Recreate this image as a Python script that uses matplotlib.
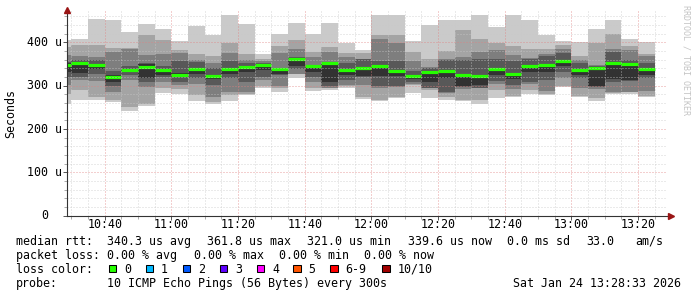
import matplotlib
matplotlib.use("Agg")
import matplotlib.pyplot as plt
from matplotlib.patches import Rectangle

# figure size in pixels
W, H = 697, 297

# start of each 5 minute step (bar covers start .. start+5min)
bar_start = ["10:25", "10:30", "10:35", "10:40", "10:45", "10:50", "10:55",
             "11:00", "11:05", "11:10", "11:15", "11:20", "11:25", "11:30",
             "11:35", "11:40", "11:45", "11:50", "11:55", "12:00", "12:05",
             "12:10", "12:15", "12:20", "12:25", "12:30", "12:35", "12:40",
             "12:45", "12:50", "12:55", "13:00", "13:05", "13:10", "13:15",
             "13:20"]

# the 10 sorted ping times per step (us)
pings = [
    [259, 281, 302, 321, 332, 352, 356, 371, 390, 406],
    [268, 290, 313, 321, 330, 355, 359, 368, 394, 409],
    [267, 273, 312, 328, 338, 348, 359, 367, 394, 454],
    [263, 268, 286, 299, 309, 325, 334, 378, 388, 452],
    [242, 252, 313, 326, 333, 338, 345, 386, 388, 425],
    [253, 259, 298, 309, 317, 351, 352, 371, 417, 442],
    [284, 294, 309, 321, 325, 336, 345, 373, 405, 432],
    [281, 292, 302, 309, 321, 330, 358, 376, 382, 404],
    [265, 278, 304, 318, 327, 342, 355, 359, 373, 438],
    [258, 263, 273, 302, 315, 325, 340, 353, 368, 417],
    [265, 278, 286, 317, 328, 342, 358, 376, 399, 463],
    [278, 281, 286, 309, 332, 345, 352, 359, 373, 442],
    [296, 299, 313, 321, 336, 346, 352, 358, 363, 373],
    [286, 296, 299, 325, 328, 340, 342, 376, 392, 419],
    [319, 327, 328, 338, 345, 362, 367, 384, 405, 444],
    [288, 294, 309, 321, 332, 344, 348, 367, 378, 419],
    [290, 294, 296, 299, 309, 351, 355, 378, 390, 444],
    [294, 299, 302, 313, 325, 336, 352, 367, 376, 399],
    [270, 273, 302, 321, 322, 340, 361, 363, 375, 382],
    [265, 267, 296, 299, 322, 343, 358, 409, 417, 463],
    [271, 273, 298, 299, 322, 334, 358, 399, 417, 463],
    [284, 302, 304, 309, 315, 322, 335, 358, 378, 404],
    [271, 290, 294, 296, 309, 330, 340, 344, 363, 440],
    [268, 273, 284, 286, 317, 331, 359, 363, 381, 452],
    [265, 268, 292, 298, 299, 323, 359, 367, 428, 453],
    [259, 267, 294, 296, 302, 320, 361, 378, 407, 463],
    [271, 290, 304, 312, 325, 336, 363, 382, 399, 436],
    [273, 276, 292, 302, 315, 326, 358, 371, 392, 463],
    [282, 290, 304, 309, 332, 345, 361, 365, 384, 452],
    [278, 282, 288, 313, 332, 346, 368, 373, 384, 417],
    [298, 299, 317, 332, 345, 356, 375, 384, 394, 404],
    [275, 276, 294, 317, 325, 334, 352, 359, 368, 402],
    [265, 271, 292, 298, 299, 338, 345, 348, 399, 432],
    [282, 284, 286, 309, 315, 350, 378, 384, 419, 453],
    [282, 285, 286, 312, 313, 349, 359, 382, 392, 407],
    [275, 276, 288, 317, 325, 338, 353, 368, 373, 402],
]

median = [349, 353, 349, 321, 336, 344, 336, 326, 338, 322, 338, 344, 348,
          338, 361, 345, 353, 336, 342, 345, 335, 322, 331, 333, 325, 322,
          338, 328, 346, 348, 358, 336, 340, 352, 350, 339.6]

y_ticks = [0, 100, 200, 300, 400]
y_labels = ["0", "100 u", "200 u", "300 u", "400 u"]
x_labels = ["10:40", "11:00", "11:20", "11:40", "12:00", "12:20", "12:40",
            "13:00", "13:20"]

loss_labels = ["0", "1", "2", "3", "4", "5", "6-9", "10/10"]
loss_colors = ["#26ff00", "#00b8ff", "#0059ff", "#5e00ff", "#ff00ff",
               "#ff5500", "#ff0000", "#a10000"]
# x pixel of each loss colour box
loss_box_x = [108.7, 145.7, 182.7, 219.7, 256.7, 293.3, 330.0, 382.0]

smoke = ["#cacaca", "#a4a4a4", "#7e7e7e", "#585858", "#323232"]
MONO = "DejaVu Sans Mono"
FS = 8.4


def minutes(hhmm):
    h, m = hhmm.split(":")
    return int(h) * 60 + int(m)


t0 = 10 * 60 + 28 + 33 / 60.0   # 10:28:33
t1 = t0 + 180

starts = [minutes(s) for s in bar_start]

fig = plt.figure(figsize=(W / 100, H / 100), dpi=100)
fig.patch.set_facecolor("white")
ax = fig.add_axes([66.5 / W, 1 - 215.7 / H, 600 / W, 205.7 / H])
ax.set_xlim(t0, t1)
ax.set_ylim(0, 475)

# smoke: outer pair first, inner pairs on top
for i in range(5):
    lo = [p[i] for p in pings]
    hi = [p[9 - i] for p in pings]
    ax.bar(starts, [h - l for h, l in zip(hi, lo)], bottom=lo, width=5,
           align="edge", color=smoke[i], linewidth=0, antialiased=False,
           zorder=2)

# median line
ax.hlines(median, starts, [s + 5 for s in starts], color=loss_colors[0],
          lw=2.3, zorder=4)

# grid, drawn over the graph like rrdtool does
dot = (0, (1, 2))
for m in range(630, 810, 5):
    if m % 20 == 0:
        ax.axvline(m, color="#e08080", lw=0.72, ls=dot, alpha=0.75, zorder=5)
    else:
        ax.axvline(m, color="#c8c8c8", lw=0.72, ls=dot, alpha=0.75, zorder=5)
for v in range(20, 475, 20):
    if v % 100 == 0:
        ax.axhline(v, color="#e08080", lw=0.72, ls=dot, alpha=0.75, zorder=5)
    else:
        ax.axhline(v, color="#c8c8c8", lw=0.72, ls=dot, alpha=0.75, zorder=5)

for s in ["top", "right"]:
    ax.spines[s].set_visible(False)
for s in ["left", "bottom"]:
    ax.spines[s].set_color("#333333")
    ax.spines[s].set_linewidth(0.8)
    ax.spines[s].set_zorder(6)

ax.set_xticks(range(640, 801, 20))
ax.set_xticks(range(630, 810, 5), minor=True)
ax.set_yticks(y_ticks)
ax.set_yticks(range(20, 475, 20), minor=True)
ax.set_xticklabels([])
ax.set_yticklabels([])
ax.tick_params(which="major", length=3, width=0.7, color="#555555",
               direction="out")
ax.tick_params(which="minor", length=2, width=0.7, color="#aaaaaa",
               direction="out")

# tick labels
xt = ax.get_xaxis_transform()
for m, lab in zip(range(640, 801, 20), x_labels):
    ax.text(m, -12.0 / 205.7, lab, transform=xt, ha="center", va="baseline",
            family=MONO, fontsize=FS, color="black")
yt = ax.get_yaxis_transform()
for v, lab in zip(y_ticks, y_labels):
    ax.text(-22.1 / 600, v, lab, transform=yt, ha="center", va="center",
            family=MONO, fontsize=FS, color="black")

# axis arrows
ax.plot([t0], [475], marker="^", ms=4, color="#9a1515", clip_on=False,
        zorder=7)
ax.plot([t0 + (671 - 66.5) * 0.3], [0], marker=">", ms=4, color="#9a1515",
        clip_on=False, zorder=7)

fig.text(11 / W, 1 - 114 / H, "Seconds", rotation=90, ha="center",
         va="center", family=MONO, fontsize=FS)
fig.text(686 / W, 1 - 60 / H, "RRDTOOL / TOBI OETIKER", rotation=270,
         ha="center", va="center", family=MONO, fontsize=6, color="#c4c4c4")


def put(x, y, s, **kw):
    fig.text(x / W, 1 - y / H, s, family=MONO, fontsize=FS, va="baseline",
             **kw)


# legend rows
put(16, 245, "median rtt:")
put(107.3, 245, "340.3 us avg")
put(207.3, 245, "361.8 us max")
put(307.3, 245, "321.0 us min")
put(407.7, 245, "339.6 us now")
put(507, 245, "0.0 ms sd")
put(586.3, 245, "33.0")
put(635.3, 245, "am/s")

put(16, 259, "packet loss:")
put(107.3, 259, "0.00 % avg")
put(194, 259, "0.00 % max")
put(279.3, 259, "0.00 % min")
put(364.5, 259, "0.00 % now")

put(16, 273, "loss color:")
for bx, lab, col in zip(loss_box_x, loss_labels, loss_colors):
    fig.patches.append(Rectangle((bx / W, 1 - 272 / H), 7.5 / W, 7.5 / H,
                                 transform=fig.transFigure, facecolor=col,
                                 edgecolor="black", lw=0.75))
    put(bx + 15.3, 273, lab)

put(16, 287, "probe:")
put(107.3, 287, "10 ICMP Echo Pings (56 Bytes) every 300s")
put(681, 287, "Sat Jan 24 13:28:33 2026", ha="right")

fig.savefig("out.png", dpi=100, facecolor="white")
